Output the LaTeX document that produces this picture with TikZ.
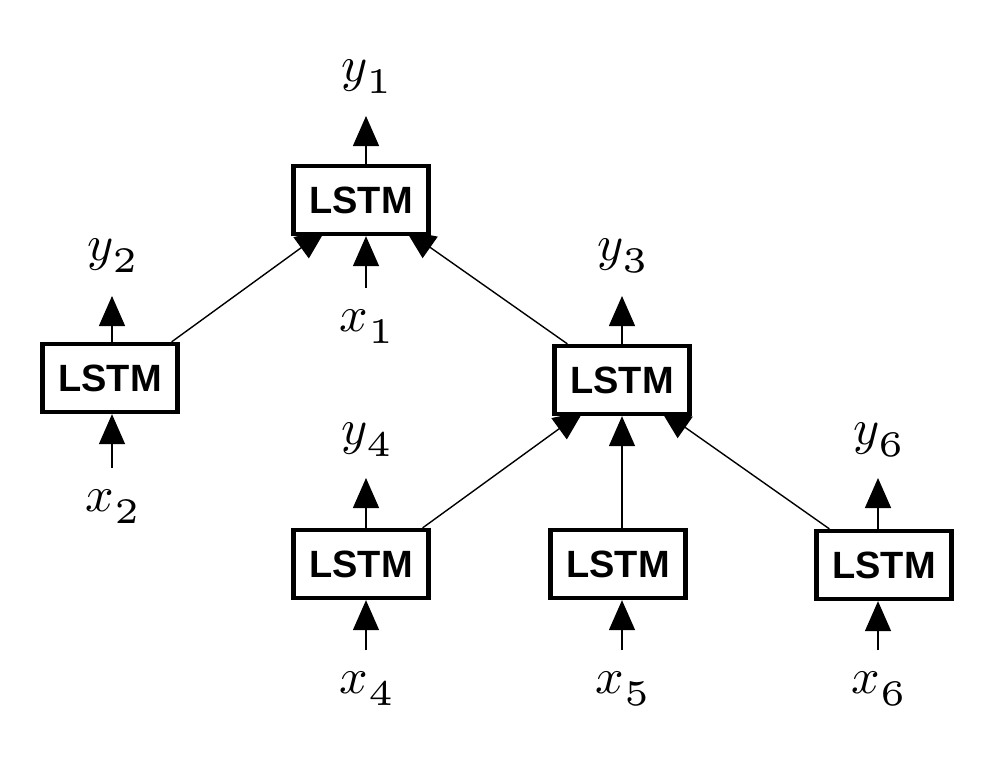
\documentclass[tikz,border=0pt]{standalone}
\usepackage{fontspec}
\newfontfamily\boxfont{Liberation Sans}
% letters and their subscripts, set from fixed-design Computer Modern fonts
\font\lblfnt=cmmi10 at 50pt
\font\subfnt=cmr5 at 36pt
\newcommand\lbl[2]{{\lblfnt #1}\kern0.5pt\raisebox{-12pt}{\subfnt #2}}
\usetikzlibrary{arrows.meta,calc,backgrounds}

\begin{document}
\begin{tikzpicture}[x=1pt,y=-1pt,
  lstm/.style={draw,line width=4.3pt,fill=white,minimum width=135pt,minimum height=68pt,
    inner sep=0pt,font=\boxfont\bfseries\fontsize{38}{44}\selectfont},
  lab/.style={anchor=base,inner sep=0pt},
  arr/.style={line width=1.4pt,-{Triangle[length=30pt,width=26pt]}}]

\useasboundingbox (0,0) rectangle (987,766);

% LSTM cells of the tree
\node[lstm] (top) at (361,200) {LSTM};
\node[lstm] (left) at (110,378) {LSTM};
\node[lstm] (mid) at (622,380) {LSTM};
\node[lstm] (bl) at (361,564) {LSTM};
\node[lstm] (bm) at (618,564) {LSTM};
\node[lstm] (br) at (884,565) {LSTM};

% outputs and inputs
\node[lab] (y1) at (366,81) {\lbl{y}{1}};
\node[lab] (x1) at (366,331) {\lbl{x}{1}};
\node[lab] (y2) at (112,260) {\lbl{y}{2}};
\node[lab] (x2) at (112,511) {\lbl{x}{2}};
\node[lab] (y3) at (622,260) {\lbl{y}{3}};
\node[lab] (y4) at (366,444) {\lbl{y}{4}};
\node[lab] (x4) at (366,693) {\lbl{x}{4}};
\node[lab] (x5) at (622,693) {\lbl{x}{5}};
\node[lab] (y6) at (878,444) {\lbl{y}{6}};
\node[lab] (x6) at (878,693) {\lbl{x}{6}};

\begin{scope}[on background layer]
  % cell outputs
  \draw[arr] (top.north -| y1) -- ([yshift=-35pt]y1.base);
  \draw[arr] (left.north -| y2) -- ([yshift=-36pt]y2.base);
  \draw[arr] (mid.north -| y3) -- ([yshift=-36pt]y3.base);
  \draw[arr] (bl.north -| y4) -- ([yshift=-34pt]y4.base);
  \draw[arr] (br.north -| y6) -- ([yshift=-34pt]y6.base);
  % cell inputs
  \draw[arr] ([yshift=43pt]x1.base) -- (x1 |- top.south);
  \draw[arr] ([yshift=43pt]x2.base) -- (x2 |- left.south);
  \draw[arr] ([yshift=43pt]x4.base) -- (x4 |- bl.south);
  \draw[arr] ([yshift=43pt]x5.base) -- (x5 |- bm.south);
  \draw[arr] ([yshift=43pt]x6.base) -- (x6 |- br.south);
  % children feeding their parents
  \draw[arr] ($(left.north east)+(-8,0)$) -- ($(top.south west)+(34,-6)$);
  \draw[arr] ($(mid.north west)+(15,0)$) -- ($(top.south east)+(-25,-6)$);
  \draw[arr] ($(bl.north east)+(-8,0)$) -- ($(mid.south west)+(31,-5)$);
  \draw[arr] (bm.north -| x5) -- (x5 |- mid.south);
  \draw[arr] ($(br.north west)+(15,0)$) -- ($(mid.south east)+(-31,-6)$);
\end{scope}
\end{tikzpicture}
\end{document}
